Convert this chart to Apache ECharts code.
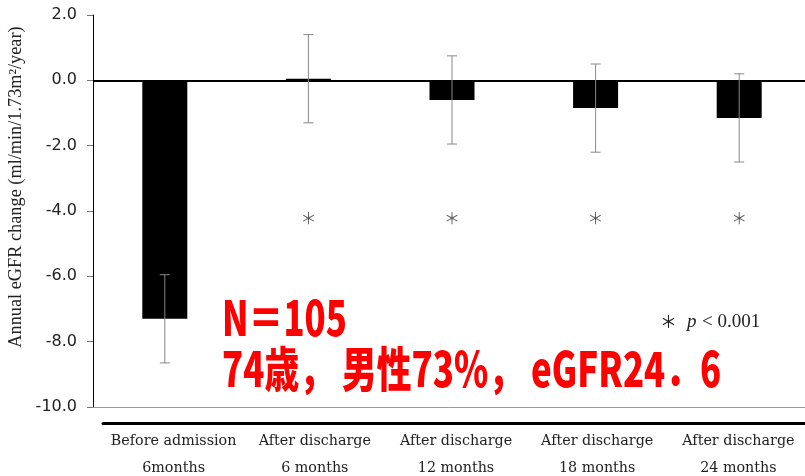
<!DOCTYPE html>
<html>
<head>
<meta charset="utf-8">
<script src="https://cdn.jsdelivr.net/npm/echarts@6/dist/echarts.min.js"></script>
<style>
  html, body { margin: 0; padding: 0; background: #fff; }
  #chart { width: 805px; height: 476px; }
</style>
</head>
<body>
<div id="chart"></div>
<script>
// Periods on the x axis (two-line labels)
const periods = [
  'Before admission\n6months',
  'After discharge\n6 months',
  'After discharge\n12 months',
  'After discharge\n18 months',
  'After discharge\n24 months'
];
// Mean annual eGFR change per period
const meanChange = [-7.3, 0.05, -0.6, -0.85, -1.15];
// Standard deviation shown as error bars
const sdChange = [1.35, 1.35, 1.35, 1.35, 1.35];
// Periods significantly different (p < 0.001)
const significant = [false, true, true, true, true];
const sigLevel = -4.2;
// Y-axis ticks
const yMin = -10, yMax = 2, yStep = 2;

const chart = echarts.init(document.getElementById('chart'), null, { renderer: 'canvas' });

const errorData = meanChange.map((m, i) => [i, m + sdChange[i], m - sdChange[i]]);
const sigData = significant.map((s, i) => s ? [i, sigLevel] : null).filter(Boolean);

const noteFont = { fontFamily: 'Liberation Serif', fontSize: 19, fill: '#222', verticalAlign: 'middle' };

chart.setOption({
  animation: false,
  backgroundColor: '#fff',
  grid: [
    { left: 93, top: 15, width: 718, height: 392, outerBoundsMode: 'none', containLabel: false },
    { left: 103, top: 422, width: 706, height: 1, outerBoundsMode: 'none', containLabel: false }
  ],
  xAxis: [
    {
      type: 'category', gridIndex: 0, data: periods,
      axisLine: { onZero: false, lineStyle: { color: '#999', width: 1 } },
      axisTick: { show: false },
      axisLabel: { show: false }
    },
    {
      type: 'category', gridIndex: 1, data: periods, position: 'bottom',
      axisLine: { lineStyle: { color: '#000', width: 3 } },
      axisTick: { show: false },
      axisLabel: {
        interval: 0, hideOverlap: false,
        margin: 5, lineHeight: 27, fontSize: 14.3,
        fontFamily: 'DejaVu Serif', color: '#222'
      }
    }
  ],
  yAxis: [
    {
      type: 'value', gridIndex: 0, min: yMin, max: yMax, interval: yStep,
      name: 'Annual eGFR change (ml/min/1.73m\u00B2/year)',
      nameLocation: 'middle', nameGap: 65, nameRotate: 90,
      nameTextStyle: {
        fontFamily: 'Liberation Serif', fontSize: 18.3, color: '#222',
        padding: [0, 0, 0, 48]
      },
      axisLine: { show: true, lineStyle: { color: '#000', width: 1 } },
      axisTick: { show: true, length: 6, lineStyle: { color: '#777' } },
      axisLabel: {
        margin: 16, fontSize: 16, fontFamily: 'DejaVu Sans', color: '#222',
        formatter: v => v.toFixed(1)
      },
      splitLine: { show: false }
    },
    { type: 'value', gridIndex: 1, min: 0, max: 1, show: false }
  ],
  series: [
    {
      type: 'bar', xAxisIndex: 0, yAxisIndex: 0, data: meanChange,
      barWidth: 45,
      itemStyle: { color: '#000' },
      markLine: {
        silent: true, symbol: 'none', label: { show: false },
        lineStyle: { color: '#000', width: 2, type: 'solid' },
        data: [{ yAxis: 0 }]
      },
      z: 2
    },
    {
      type: 'custom', xAxisIndex: 0, yAxisIndex: 0, data: errorData, z: 5,
      renderItem: (params, api) => {
        const x = api.value(0);
        const top = api.coord([x, api.value(1)]);
        const bot = api.coord([x, api.value(2)]);
        const cap = 5;
        const style = { stroke: '#888', lineWidth: 1 };
        return {
          type: 'group',
          children: [
            { type: 'line', shape: { x1: top[0], y1: top[1], x2: bot[0], y2: bot[1] }, style },
            { type: 'line', shape: { x1: top[0] - cap, y1: top[1], x2: top[0] + cap, y2: top[1] }, style },
            { type: 'line', shape: { x1: bot[0] - cap, y1: bot[1], x2: bot[0] + cap, y2: bot[1] }, style }
          ]
        };
      }
    },
    {
      type: 'scatter', xAxisIndex: 0, yAxisIndex: 0, data: sigData,
      symbolSize: 1, itemStyle: { color: 'transparent' },
      label: {
        show: true, position: 'inside', formatter: '\uFF0A',
        fontFamily: 'Noto Sans CJK JP', fontSize: 16, color: '#333'
      }
    }
  ],
  graphic: [
    {
      type: 'text', left: 222, top: 294, scaleX: 0.725,
      style: {
        text: 'N\uFF1D105',
        fontFamily: 'Noto Sans CJK JP', fontWeight: 900, fontSize: 48,
        fill: '#ff0000'
      }
    },
    {
      type: 'text', left: 222, top: 345, scaleX: 0.725,
      style: {
        text: '74\u6B73\uFF0C \u7537\u602773%\uFF0C eGFR24\uFF0E6',
        fontFamily: 'Noto Sans CJK JP', fontWeight: 900, fontSize: 48,
        fill: '#ff0000'
      }
    },
    // significance note: "* p < 0.001"
    {
      type: 'text', x: 660, y: 322,
      style: { text: '\uFF0A', fontFamily: 'Noto Sans CJK JP', fontSize: 17, fill: '#222', verticalAlign: 'middle' }
    },
    {
      type: 'text', x: 687, y: 322,
      style: Object.assign({ text: 'p', fontStyle: 'italic' }, noteFont)
    },
    {
      type: 'text', x: 702, y: 322,
      style: Object.assign({ text: '< 0.001' }, noteFont)
    }
  ]
});
</script>
</body>
</html>
